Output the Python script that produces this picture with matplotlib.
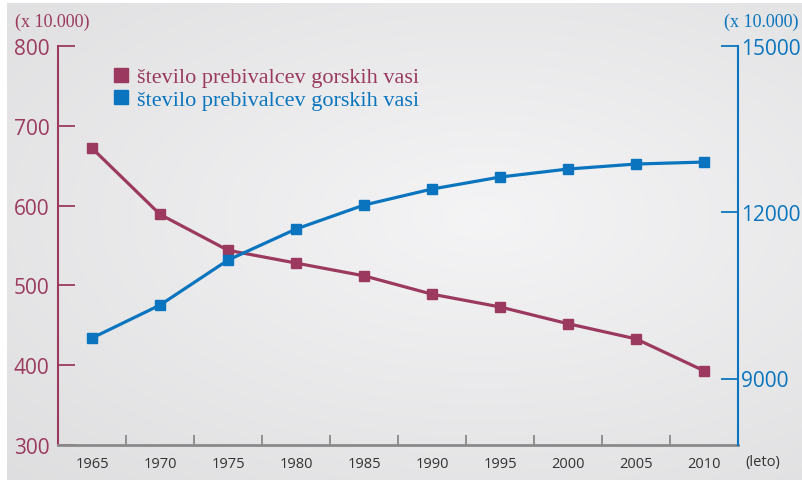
import matplotlib.pyplot as plt
import numpy as np
from matplotlib.lines import Line2D

years = ['1965', '1970', '1975', '1980', '1985', '1990', '1995', '2000', '2005', '2010']
left_vals = [672, 589, 544, 528, 512, 489, 473, 452, 433, 393]
right_vals = [9730, 10325, 11137, 11697, 12130, 12419, 12635, 12780, 12870, 12906]
left_ticks = [300, 400, 500, 600, 700, 800]
right_ticks = [9000, 12000, 15000]
series_label = 'število prebivalcev gorskih vasi'

MAROON = '#9b3a5e'
BLUE = '#0a75be'
GREY = '#8a8a8a'

fig = plt.figure(figsize=(8.02, 4.81), dpi=100)

# gradient background panel
bg = fig.add_axes([7 / 802, 0, 1 - 7 / 802, 1 - 4 / 481])
bg.axis('off')
yy, xx = np.mgrid[0:1:200j, 0:1:300j]
r = np.sqrt(((xx - 0.6) / 0.9) ** 2 + ((yy - 0.45) / 0.8) ** 2)
g = np.clip(0.958 - 0.09 * r, 0, 1)
img = np.dstack([g, g, g + 0.006])
bg.imshow(np.clip(img, 0, 1), aspect='auto', extent=[0, 1, 0, 1], interpolation='bicubic')

ax = fig.add_axes([58 / 802, 35 / 481, 680 / 802, 399 / 481])
ax.patch.set_alpha(0)
ax2 = ax.twinx()

x = np.arange(len(years))
ax2.plot(x, right_vals, color=BLUE, lw=2.3, marker='s', ms=7.5, zorder=3)
ax.plot(x, left_vals, color=MAROON, lw=2.3, marker='s', ms=7.5, zorder=3)

ax.set_xlim(-0.5, len(years) - 0.5)
ax.set_ylim(300, 800)
ax2.set_ylim(7800, 15000)

ax.set_xticks(x)
ax.set_xticklabels(years, fontsize=10.5, color='#333333', family='Open Sans')
ax.set_xticks(x[:-1] + 0.5, minor=True)
ax.tick_params(axis='x', which='major', length=0, pad=8)
ax.tick_params(axis='x', which='minor', direction='in', length=7, width=1.3, color=GREY)

ax.set_yticks(left_ticks)
ax.set_yticklabels([str(v) for v in left_ticks], fontsize=15, color=MAROON, family='Open Sans')
ax.tick_params(axis='y', direction='in', length=12, width=1.3, color=MAROON, pad=6)

ax2.set_yticks(right_ticks)
ax2.set_yticklabels([str(v) for v in right_ticks], fontsize=15, color=BLUE, family='Open Sans')
ax2.tick_params(axis='y', direction='in', length=12, width=1.3, color=BLUE, pad=2)

for a in (ax, ax2):
    a.spines['top'].set_visible(False)
ax.spines['right'].set_visible(False)
ax2.spines['left'].set_visible(False)
ax2.spines['bottom'].set_visible(False)
ax.spines['left'].set_color(MAROON)
ax.spines['left'].set_linewidth(1.5)
ax2.spines['right'].set_color(BLUE)
ax2.spines['right'].set_linewidth(1.5)
ax.spines['bottom'].set_color(GREY)
ax.spines['bottom'].set_linewidth(2)

fig.text(15 / 802, 1 - 22 / 481, '(x 10.000)', color=MAROON, fontsize=13,
         family='Liberation Serif', va='center', ha='left')
fig.text(798 / 802, 1 - 22 / 481, '(x 10.000)', color=BLUE, fontsize=13,
         family='Liberation Serif', va='center', ha='right')
fig.text(763 / 802, 1 - 463 / 481, '(leto)', color='#333333', fontsize=10.5,
         family='Open Sans', va='center', ha='center')

handles = [Line2D([], [], ls='none', marker='s', ms=10, color=MAROON),
           Line2D([], [], ls='none', marker='s', ms=10, color=BLUE)]
ax.legend(handles, [series_label, series_label], loc='upper left',
          bbox_to_anchor=(0.07, 0.97), frameon=False, handlelength=0.6,
          handletextpad=0.4, labelspacing=0.1, borderaxespad=0,
          labelcolor=[MAROON, BLUE], prop={'family': 'Liberation Serif', 'size': 16})

fig.savefig('out.png', dpi=100)
